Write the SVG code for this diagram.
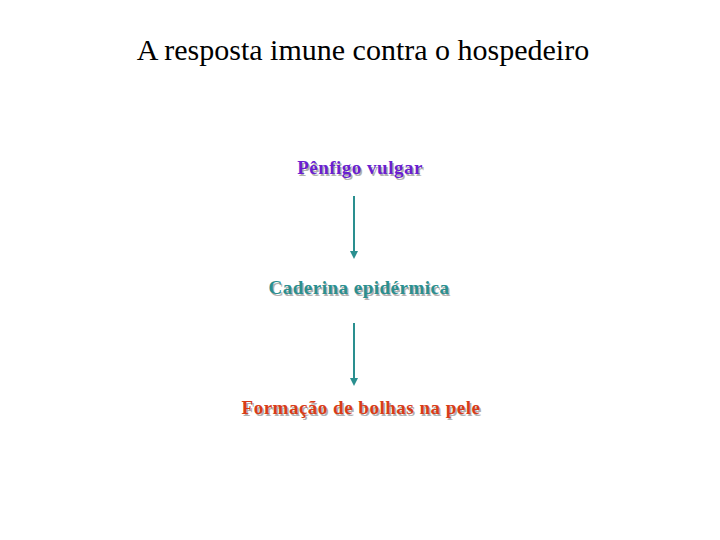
<svg xmlns="http://www.w3.org/2000/svg" width="720" height="540" viewBox="0 0 720 540">
<defs>
<style>
.t{font-family:"Liberation Serif","Times New Roman",serif;text-anchor:middle}
.lbl{font-weight:bold;font-size:19px;letter-spacing:0.5px}
.sh{fill:#b0b0b0}
.c{stroke:#2a8f8f;stroke-width:2;fill:none}
</style>
</defs>
<rect width="720" height="540" fill="#ffffff"/>
<text x="363" y="60" font-family="Liberation Serif, Times New Roman, serif" text-anchor="middle" font-size="30" fill="#000">A resposta imune contra o hospedeiro</text>
<g id="connectors">
<line class="c" x1="354" y1="196" x2="354" y2="252"/>
<path d="M350,251 L358,251 L354,259 Z" fill="#2a8f8f"/>
<line class="c" x1="354" y1="323" x2="354" y2="379"/>
<path d="M350,378 L358,378 L354,386 Z" fill="#2a8f8f"/>
</g>
<g id="n1">
<text class="t lbl sh" x="361.5" y="175.5">Pênfigo vulgar</text>
<text class="t lbl" x="360" y="174" fill="#6a1fd0">Pênfigo vulgar</text>
</g>
<g id="n2">
<text class="t lbl sh" x="360.5" y="295.5">Caderina epidérmica</text>
<text class="t lbl" x="359" y="294" fill="#2a8f8f">Caderina epidérmica</text>
</g>
<g id="n3">
<text class="t lbl sh" x="362.5" y="415.5">Formação de bolhas na pele</text>
<text class="t lbl" x="361" y="414" fill="#d83c18">Formação de bolhas na pele</text>
</g>
</svg>
